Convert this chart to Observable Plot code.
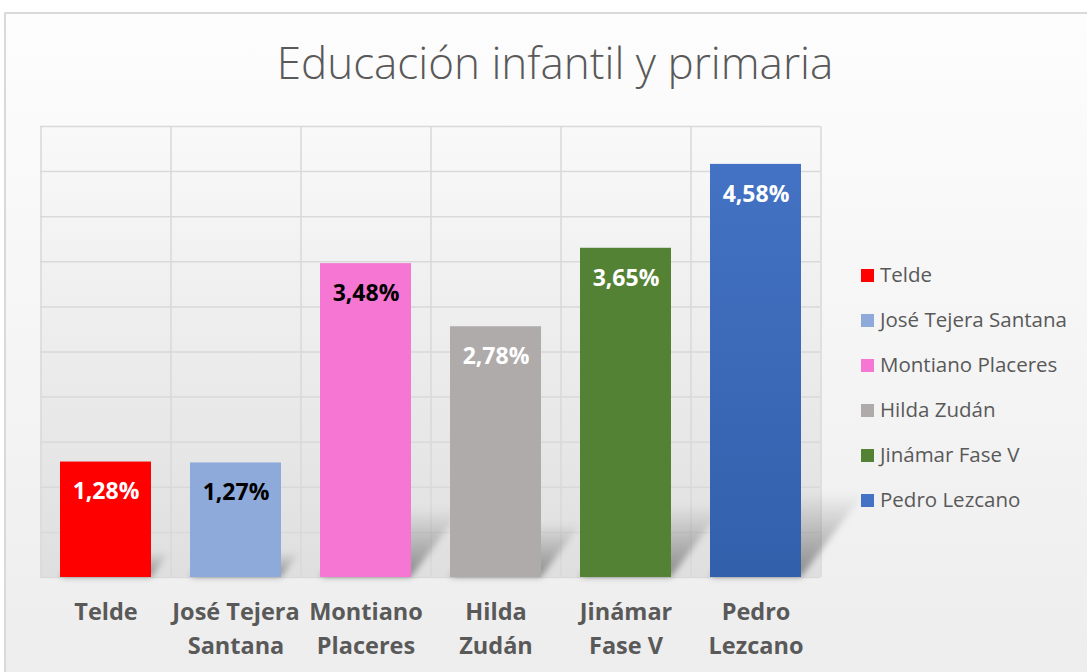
<!DOCTYPE html>
<html><head><meta charset="utf-8">
<script src="https://cdn.jsdelivr.net/npm/d3@7"></script>
<script src="https://cdn.jsdelivr.net/npm/@observablehq/plot@0.6"></script>
<style>
body{margin:0;background:#fff;}
#wrap{position:relative;width:1087px;height:672px;overflow:hidden;font-family:"Open Sans",sans-serif;}
#bg{position:absolute;left:4px;top:12px;width:1100px;height:700px;border:2px solid #d9d9d9;background:linear-gradient(#fdfdfd,#ececec);}
#title{position:absolute;left:0;width:1110px;top:32px;text-align:center;font-weight:300;font-size:44px;color:#595959;white-space:nowrap;}
#chart{position:absolute;left:0;top:0;}
#legend{position:absolute;left:861px;top:252px;font-size:20.5px;color:#595959;}
#legend .row{display:flex;align-items:center;height:45px;line-height:25px;}
#legend .sw{width:13px;height:13px;margin-right:6px;margin-top:1px;}
</style></head>
<body>
<div id="wrap">
  <div id="bg"></div>
  <div id="chart"></div>
  <div id="title">Educación infantil y primaria</div>
  <div id="legend"></div>
</div>
<script>
const categories = ["Telde","José Tejera Santana","Montiano Placeres","Hilda Zudán","Jinámar Fase V","Pedro Lezcano"];
const tickLabels = ["Telde","José Tejera\nSantana","Montiano\nPlaceres","Hilda\nZudán","Jinámar\nFase V","Pedro\nLezcano"];
const values = [1.28, 1.27, 3.48, 2.78, 3.65, 4.58];
const valueLabels = ["1,28%","1,27%","3,48%","2,78%","3,65%","4,58%"];
const colors = ["#ff0000","#8eaadb","#f577d3","#afabab","#548235","#4472c4"];
const labelColors = ["#ffffff","#000000","#000000","#ffffff","#ffffff","#ffffff"];
const yTicks = [0,0.5,1,1.5,2,2.5,3,3.5,4,4.5,5];

const data = categories.map((c,i)=>({cat:c, value:values[i], label:valueLabels[i], color:colors[i], lc:labelColors[i], tick:tickLabels[i]}));

const plot = Plot.plot({
  width:1087, height:672,
  marginLeft:40, marginRight:267, marginTop:126, marginBottom:95,
  style:{background:"transparent", fontFamily:"Open Sans"},
  x:{type:"band", domain:categories, paddingInner:0.3, paddingOuter:0.15, axis:null},
  y:{domain:[0,5], axis:null},
  color:{type:"identity"},
  marks:[
    Plot.frame({fill:"#eeeeee", stroke:"none"}),
    Plot.ruleY(yTicks, {stroke:"#d9d9d9", strokeWidth:1.5}),
    Plot.ruleX(categories, {x:d=>d, dx:-65, stroke:"#d9d9d9", strokeWidth:1.5}),
    Plot.ruleX([categories[categories.length-1]], {x:d=>d, dx:65, stroke:"#d9d9d9", strokeWidth:1.5}),
    Plot.barY(data, {x:"cat", y:"value", fill:"color"}),
    Plot.text(data, {x:"cat", y:"value", text:"label", fill:"lc", dy:30, fontSize:23, fontWeight:"bold"}),
    Plot.axisX({tickFormat:(d)=>tickLabels[categories.indexOf(d)], tickSize:0, tickPadding:18, fontSize:23.5, fontWeight:"bold", fill:"#595959", lineHeight:1.45, label:null})
  ]
});
document.getElementById("chart").appendChild(plot);

const svg = d3.select(plot);
const defs = svg.insert("defs", ":first-child");
const g = defs.append("linearGradient").attr("id","gradBlue").attr("x1",0).attr("x2",0).attr("y1",0).attr("y2",1);
g.append("stop").attr("offset","0%").attr("stop-color","#4472c4");
g.append("stop").attr("offset","100%").attr("stop-color","#3360ab");
const pg = defs.append("linearGradient").attr("id","plotGrad").attr("x1",0).attr("x2",0).attr("y1",0).attr("y2",1);
pg.append("stop").attr("offset","0%").attr("stop-color","#f9f9f9");
pg.append("stop").attr("offset","100%").attr("stop-color","#dfdfdf");
const sg = defs.append("linearGradient").attr("id","shGrad").attr("x1",0).attr("x2",0).attr("y1",0).attr("y2",1);
sg.append("stop").attr("offset","0%").attr("stop-color","#000").attr("stop-opacity",0);
sg.append("stop").attr("offset","100%").attr("stop-color","#000").attr("stop-opacity",0.38);
defs.append("filter").attr("id","blur").attr("x","-20%").attr("y","-20%").attr("width","140%").attr("height","140%")
  .append("feGaussianBlur").attr("stdDeviation",3);

svg.selectAll("g[aria-label='frame'] rect, rect[aria-label='frame']").attr("fill","url(#plotGrad)");
svg.selectAll("g[aria-label='bar'] rect").filter(function(){return this.getAttribute("fill")==="#4472c4";}).attr("fill","url(#gradBlue)");

// perspective shadows derived from each bar's rendered geometry
const barG = svg.select("g[aria-label='bar']");
const shadowG = svg.insert("g", "g[aria-label='bar']").attr("filter","url(#blur)");
barG.selectAll("rect").each(function(){
  const bx=+this.getAttribute("x"), by=+this.getAttribute("y"), bw=+this.getAttribute("width"), bh=+this.getAttribute("height");
  const yb = by+bh, sh = Math.min(bh*0.22, 85), sx = sh*0.75;
  shadowG.append("polygon")
    .attr("points", `${bx},${yb} ${bx+bw},${yb} ${bx+bw+sx},${yb-sh} ${bx+sx},${yb-sh}`)
    .attr("fill","url(#shGrad)");
});

const legend = d3.select("#legend");
categories.forEach((c,i)=>{
  const r = legend.append("div").attr("class","row");
  r.append("div").attr("class","sw").style("background",colors[i]);
  r.append("span").text(c);
});
</script>
</body></html>
